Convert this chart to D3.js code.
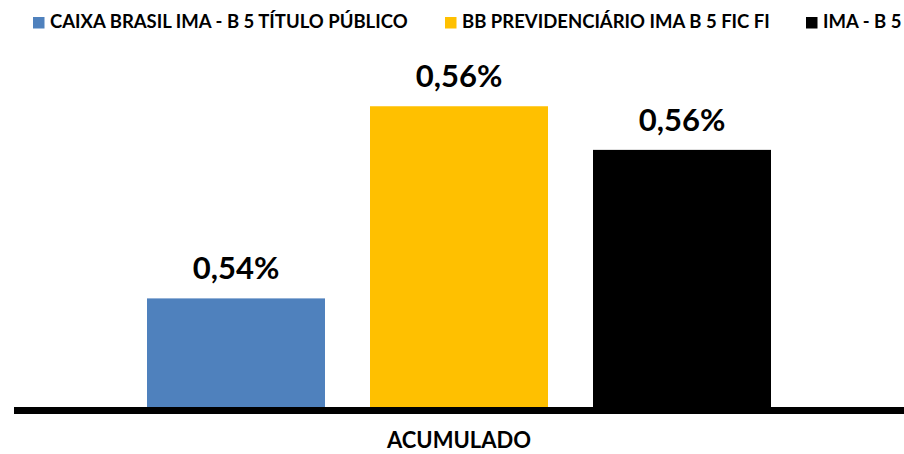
<!DOCTYPE html>
<html>
<head>
<meta charset="utf-8">
<script src="https://cdn.jsdelivr.net/npm/d3@7"></script>
<style>
  body { margin: 0; background: #fff; }
  svg { display: block; font-family: Lato, "Open Sans", sans-serif; }
</style>
</head>
<body>
<div id="chart"></div>
<script>
const series = ["CAIXA BRASIL IMA - B 5 TÍTULO PÚBLICO", "BB PREVIDENCIÁRIO IMA B 5 FIC FI", "IMA - B 5"];
const values = [0.5420, 0.5627, 0.5580];
const colors = ["#4f81bd", "#ffc000", "#000000"];
const category = "ACUMULADO";

const width = 904,
    height = 454,
    margin = ({ top: 84.9, right: 0, bottom: 47, left: 14 });

const svg = d3.select("#chart")
    .append("svg")
    .attr("width", width)
    .attr("height", height);

const x = d3.scaleBand()
    .domain(series)
    .range([124.5, 793.5])
    .paddingInner(45 / 223)
    .paddingOuter(22.5 / 223);

const y = d3.scaleLinear()
    .domain([0.5303, 0.5650])
    .range([height - margin.bottom, margin.top]);

const fmt = v => d3.format(".2f")(v).replace(".", ",") + "%";

// bars
svg.append("g")
    .selectAll("rect")
    .data(series)
    .join("rect")
    .attr("x", d => x(d))
    .attr("width", x.bandwidth())
    .attr("y", (d, i) => y(values[i]))
    .attr("height", (d, i) => y.range()[0] - y(values[i]))
    .attr("fill", (d, i) => colors[i]);

// value labels
svg.append("g")
    .selectAll("text")
    .data(series)
    .join("text")
    .attr("x", d => x(d) + x.bandwidth() / 2)
    .attr("y", (d, i) => y(values[i]) - 19)
    .attr("text-anchor", "middle")
    .attr("font-size", 31)
    .attr("font-weight", "bold")
    .attr("fill", "#000")
    .text((d, i) => fmt(values[i]));

// baseline
svg.append("line")
    .attr("x1", margin.left)
    .attr("x2", width)
    .attr("y1", y.range()[0] + 3.5)
    .attr("y2", y.range()[0] + 3.5)
    .attr("stroke", "#000")
    .attr("stroke-width", 7);

// category label
svg.append("text")
    .attr("x", (x.range()[0] + x.range()[1]) / 2)
    .attr("y", 448)
    .attr("text-anchor", "middle")
    .attr("font-size", 22)
    .attr("font-weight", "bold")
    .text(category);

// legend
const legendX = [33, 445, 806];
const legend = svg.append("g")
    .selectAll("g")
    .data(series)
    .join("g")
    .attr("transform", (d, i) => `translate(${legendX[i]},0)`);

legend.append("rect")
    .attr("x", 0)
    .attr("y", 17)
    .attr("width", 11.5)
    .attr("height", 11.5)
    .attr("fill", (d, i) => colors[i]);

legend.append("text")
    .attr("x", 17)
    .attr("y", 28)
    .attr("font-size", 18.5)
    .attr("font-weight", "bold")
    .text(d => d);
</script>
</body>
</html>
